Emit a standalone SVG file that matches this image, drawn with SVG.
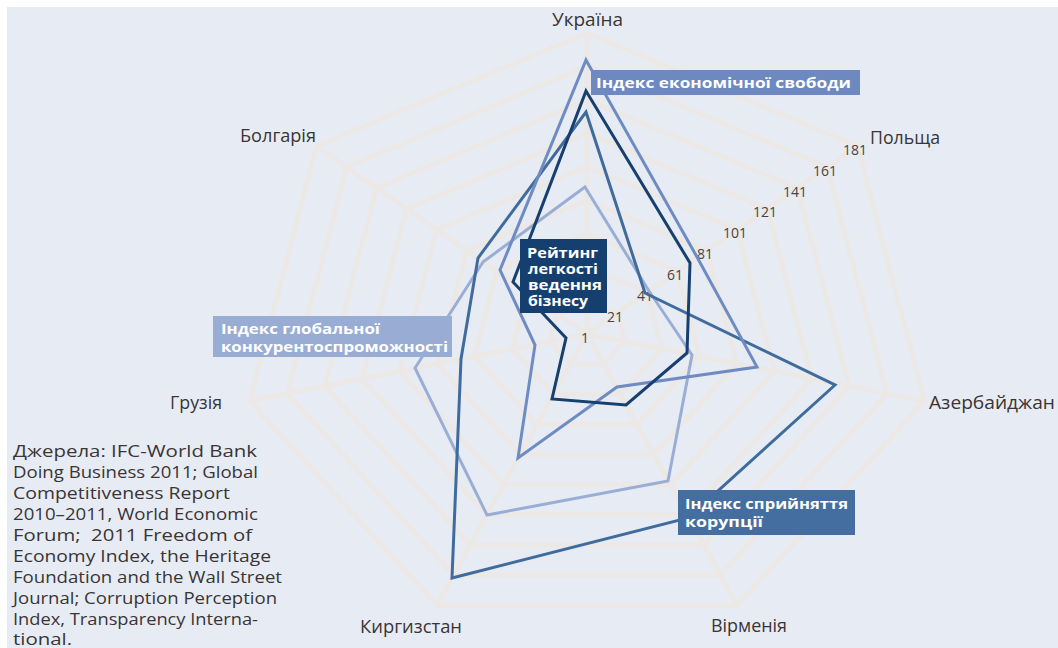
<svg xmlns="http://www.w3.org/2000/svg" width="1058" height="648" viewBox="0 0 1058 648">
<style>
.grid{fill:none;stroke:#ebe8e6;stroke-width:5;stroke-linejoin:miter}
.spoke{stroke:#ebe8e6;stroke-width:5}
.ser{fill:none;stroke-width:3;stroke-linejoin:miter}
.ax{font-family:"Open Sans","Noto Sans",sans-serif;font-size:18px;fill:#3a3434}
.tick{font-family:"Open Sans","Noto Sans",sans-serif;font-size:14px;fill:#4a4242;text-anchor:middle}
.lbl{font-family:"Open Sans","Noto Sans",sans-serif;font-size:14.5px;font-weight:bold;fill:#ffffff}
.src{font-family:"Open Sans","Noto Sans",sans-serif;font-size:16.5px;fill:#3a3434;white-space:pre}
</style>
<rect x="0" y="0" width="1058" height="648" fill="#ffffff"/>
<rect x="7" y="7" width="1051" height="641" fill="#e7ecf4"/>
<g id="grid">
<line class="spoke" x1="587" y1="334" x2="587" y2="33"/>
<line class="spoke" x1="587" y1="334" x2="857.5" y2="146.3"/>
<line class="spoke" x1="587" y1="334" x2="924.3" y2="401"/>
<line class="spoke" x1="587" y1="334" x2="737.1" y2="605.2"/>
<line class="spoke" x1="587" y1="334" x2="436.9" y2="605.2"/>
<line class="spoke" x1="587" y1="334" x2="249.7" y2="401"/>
<line class="spoke" x1="587" y1="334" x2="316.5" y2="146.3"/>
<polygon class="grid" points="587,300.6 617.1,313.1 624.5,341.4 603.7,364.1 570.3,364.1 549.5,341.4 556.9,313.1"/>
<polygon class="grid" points="587,267.1 647.1,292.3 662,348.9 620.4,394.3 553.6,394.3 512,348.9 526.9,292.3"/>
<polygon class="grid" points="587,233.7 677.2,271.4 699.4,356.3 637,424.4 537,424.4 474.6,356.3 496.8,271.4"/>
<polygon class="grid" points="587,200.2 707.2,250.6 736.9,363.8 653.7,454.5 520.3,454.5 437.1,363.8 466.8,250.6"/>
<polygon class="grid" points="587,166.8 737.3,229.7 774.4,371.2 670.4,484.7 503.6,484.7 399.6,371.2 436.7,229.7"/>
<polygon class="grid" points="587,133.3 767.3,208.9 811.9,378.7 687.1,514.8 486.9,514.8 362.1,378.7 406.7,208.9"/>
<polygon class="grid" points="587,99.9 797.4,188 849.3,386.1 703.7,544.9 470.3,544.9 324.7,386.1 376.6,188"/>
<polygon class="grid" points="587,66.4 827.4,167.2 886.8,393.6 720.4,575.1 453.6,575.1 287.2,393.6 346.6,167.2"/>
<polygon class="grid" points="587,33 857.5,146.3 924.3,401 737.1,605.2 436.9,605.2 249.7,401 316.5,146.3"/>
</g>
<g id="ticks">
<text class="tick" x="585" y="343">1</text>
<text class="tick" x="615" y="322">21</text>
<text class="tick" x="645" y="301">41</text>
<text class="tick" x="675" y="280">61</text>
<text class="tick" x="705" y="259">81</text>
<text class="tick" x="735" y="238">101</text>
<text class="tick" x="765" y="217">121</text>
<text class="tick" x="795" y="197">141</text>
<text class="tick" x="825" y="176">161</text>
<text class="tick" x="855" y="155">181</text>
</g>
<g id="axis-labels">
<text class="ax" x="552" y="26" textLength="71" lengthAdjust="spacingAndGlyphs">Україна</text>
<text class="ax" x="870" y="144" textLength="70" lengthAdjust="spacingAndGlyphs">Польща</text>
<text class="ax" x="929" y="409" textLength="126" lengthAdjust="spacingAndGlyphs">Азербайджан</text>
<text class="ax" x="711" y="632" textLength="76" lengthAdjust="spacingAndGlyphs">Вірменія</text>
<text class="ax" x="360" y="633" textLength="102" lengthAdjust="spacingAndGlyphs">Киргизстан</text>
<text class="ax" x="170" y="409" textLength="52" lengthAdjust="spacingAndGlyphs">Грузія</text>
<text class="ax" x="240" y="142" textLength="76" lengthAdjust="spacingAndGlyphs">Болгарія</text>
</g>
<g id="connectors">
<polygon id="s-competitiveness" class="ser" stroke="#9aaed5" points="585,187 649,291 692,355 668,481 487,515 415,368 483,262"/>
<polygon id="s-corruption" class="ser" stroke="#3f6b9d" points="586,112 645,293 835,385 688,518 452,578 461,359 478,258"/>
<polygon id="s-freedom" class="ser" stroke="#6e8cc2" points="586,60 697,257 757,367 617,387 518,458 535,345 500,270"/>
<polygon id="s-business" class="ser" stroke="#173f6f" points="586,91 690,263 687,353 626,405 552,399 566,338 513,282"/>
</g>
<g id="label-freedom">
<rect x="591" y="70" width="269" height="25" fill="#6d89c0"/>
<text class="lbl" x="596" y="88" textLength="255" lengthAdjust="spacingAndGlyphs">Індекс економічної свободи</text>
</g>
<g id="label-business">
<rect x="520" y="239" width="87" height="74" fill="#153f6f"/>
<text class="lbl" x="527" y="258" textLength="71" lengthAdjust="spacingAndGlyphs">Рейтинг</text>
<text class="lbl" x="528" y="274" textLength="70" lengthAdjust="spacingAndGlyphs">легкості</text>
<text class="lbl" x="528" y="290" textLength="74" lengthAdjust="spacingAndGlyphs">ведення</text>
<text class="lbl" x="528" y="306" textLength="60" lengthAdjust="spacingAndGlyphs">бізнесу</text>
</g>
<g id="label-competitiveness">
<rect x="213" y="316" width="239" height="41" fill="#98acd4"/>
<text class="lbl" x="221" y="334" textLength="159" lengthAdjust="spacingAndGlyphs">Індекс глобальної</text>
<text class="lbl" x="221" y="352" textLength="227" lengthAdjust="spacingAndGlyphs">конкурентоспроможності</text>
</g>
<g id="label-corruption">
<rect x="678" y="490" width="177" height="45" fill="#446e9f"/>
<text class="lbl" x="685" y="509" textLength="163" lengthAdjust="spacingAndGlyphs">Індекс сприйняття</text>
<text class="lbl" x="685" y="527" textLength="78" lengthAdjust="spacingAndGlyphs">корупції</text>
</g>
<g id="source">
<text class="src" x="13" y="457" textLength="244" lengthAdjust="spacingAndGlyphs">Джерела: IFC-World Bank</text>
<text class="src" x="13" y="478" textLength="245" lengthAdjust="spacingAndGlyphs">Doing Business 2011; Global</text>
<text class="src" x="13" y="499" textLength="217" lengthAdjust="spacingAndGlyphs">Competitiveness Report</text>
<text class="src" x="13" y="520" textLength="245" lengthAdjust="spacingAndGlyphs">2010–2011, World Economic</text>
<text class="src" x="13" y="541" textLength="239" lengthAdjust="spacingAndGlyphs">Forum;  2011 Freedom of</text>
<text class="src" x="13" y="562" textLength="258" lengthAdjust="spacingAndGlyphs">Economy Index, the Heritage</text>
<text class="src" x="13" y="583" textLength="269" lengthAdjust="spacingAndGlyphs">Foundation and the Wall Street</text>
<text class="src" x="13" y="604" textLength="264" lengthAdjust="spacingAndGlyphs">Journal; Corruption Perception</text>
<text class="src" x="13" y="625" textLength="245" lengthAdjust="spacingAndGlyphs">Index, Transparency Interna-</text>
<text class="src" x="13" y="645" textLength="59" lengthAdjust="spacingAndGlyphs">tional.</text>
</g>
</svg>
